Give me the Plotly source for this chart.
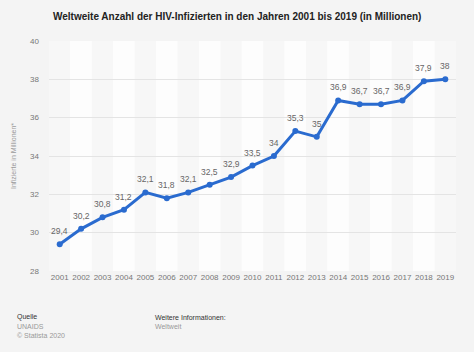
import plotly.graph_objects as go

years = [str(y) for y in range(2001, 2020)]
values = [29.4, 30.2, 30.8, 31.2, 32.1, 31.8, 32.1, 32.5, 32.9, 33.5, 34, 35.3, 35, 36.9, 36.7, 36.7, 36.9, 37.9, 38]
labels = [("%g" % v).replace(".", ",") for v in values]
y_ticks = [28, 30, 32, 34, 36, 38, 40]

W, H = 474, 352
L, R, T, B = 49, 18, 41, 81
ph = H - T - B
pw = W - L - R

def py(y):
    return (H - B - y) / ph

def px(x):
    return (x - L) / pw

fig = go.Figure()
fig.add_trace(go.Scatter(
    x=years, y=values, mode="lines+markers",
    line=dict(color="#2a6bcf", width=3),
    marker=dict(color="#2a6bcf", size=6),
    cliponaxis=False, hoverinfo="skip", showlegend=False,
))

shapes = []
for i, _ in enumerate(years):
    shapes.append(dict(type="rect", xref="x", yref="paper", x0=i - 0.5, x1=i + 0.5, y0=0, y1=1,
                       fillcolor="#f7f7f7" if i % 2 == 0 else "#fdfdfd", line=dict(width=0), layer="below"))

annotations = []
for i, (v, t) in enumerate(zip(values, labels)):
    annotations.append(dict(x=i, y=v, xref="x", yref="y", text=t, showarrow=False,
                            yshift=13, yanchor="middle",
                            font=dict(family="Arial, Liberation Sans", size=8.5, color="#666666")))

def foot(text, x, y, color):
    return dict(text=text, xref="paper", yref="paper", x=px(x), y=py(y), xanchor="left", yanchor="middle",
                showarrow=False, font=dict(size=7, color=color))

annotations += [
    dict(text="<b>Weltweite Anzahl der HIV-Infizierten in den Jahren 2001 bis 2019 (in Millionen)</b>",
         xref="paper", yref="paper", x=px(237), y=py(17), xanchor="center", yanchor="middle",
         showarrow=False, font=dict(size=10, color="#222222")),
    foot("Quelle", 15, 317, "#333333"),
    foot("UNAIDS", 15, 326, "#999999"),
    foot("© Statista 2020", 15, 335, "#999999"),
    foot("Weitere Informationen:", 153, 317, "#333333"),
    foot("Weltweit", 153, 326, "#999999"),
]

fig.update_layout(
    width=W, height=H,
    margin=dict(l=L, r=R, t=T, b=B, pad=0),
    paper_bgcolor="#f4f4f4", plot_bgcolor="#ffffff",
    shapes=shapes,
    font=dict(family="Arial, Liberation Sans", color="#777777", size=8),
    xaxis=dict(type="category", range=[-0.5, len(years) - 0.5], showgrid=False, zeroline=False,
               showline=False, ticks="", tickfont=dict(size=8, color="#777777")),
    yaxis=dict(range=[28, 40], tickvals=y_ticks, showgrid=True, gridcolor="#e4e4e4", gridwidth=1,
               zeroline=False, showline=False, ticks="", ticklabelstandoff=9,
               tickfont=dict(size=8, color="#777777"),
               title=dict(text="Infizierte in Millionen*", font=dict(size=7, color="#999999"), standoff=12)),
    annotations=annotations,
)

fig.write_html("out.html")
